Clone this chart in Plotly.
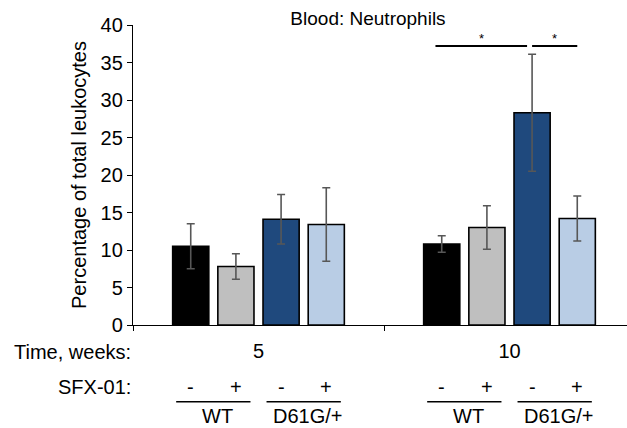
import plotly.graph_objects as go

# Neutrophils in blood, as % of total leukocytes (mean ± error)
weeks = ["5", "10"]
genotypes = ["WT", "WT", "D61G/+", "D61G/+"]
sfx_signs = ["-", "+", "-", "+"]

wt_minus = [10.5, 10.8]
wt_plus = [7.8, 13.0]
d61g_minus = [14.1, 28.3]
d61g_plus = [13.4, 14.2]

wt_minus_err = [3.0, 1.1]
wt_plus_err = [1.7, 2.9]
d61g_minus_err = [3.3, 7.8]
d61g_plus_err = [4.9, 3.0]

# significance brackets: (week index, bar a, bar b, label)
sig_week = [1, 1]
sig_bar_a = [0, 2]
sig_bar_b = [2, 3]
sig_text = ["*", "*"]
sig_level = 37.2

y_ticks = [0, 5, 10, 15, 20, 25, 30, 35, 40]

FONT = "Liberation Sans, Arial, sans-serif"
colors = ["#000000", "#BFBFBF", "#1F497D", "#B9CDE5"]
values = [wt_minus, wt_plus, d61g_minus, d61g_plus]
errors = [wt_minus_err, wt_plus_err, d61g_minus_err, d61g_plus_err]

BARGAP = 0.28
BARGROUPGAP = 0.2
slot = (1 - BARGAP) / 4
offsets = [(i - 1.5) * slot for i in range(4)]


def bar_x(week_idx, bar_idx):
    return week_idx + offsets[bar_idx]


def paper_y(px):
    # pixel row in the page -> paper coordinate (plot spans rows 25..325)
    return (325 - px) / 300


fig = go.Figure()
for i in range(4):
    fig.add_trace(go.Bar(
        x=weeks, y=values[i],
        name=f"{genotypes[i]} {sfx_signs[i]}",
        marker=dict(color=colors[i], line=dict(color="#000000", width=1.6)),
        error_y=dict(type="data", array=errors[i], visible=True,
                     color="#575757", thickness=1.6, width=4),
    ))

shapes = []
annotations = []

# significance lines and stars
pads = [(-0.025, -0.02), (0.0, 0.0)]
for k in range(len(sig_text)):
    x0 = bar_x(sig_week[k], sig_bar_a[k]) + pads[k][0]
    x1 = bar_x(sig_week[k], sig_bar_b[k]) + pads[k][1]
    shapes.append(dict(type="line", xref="x", yref="y", x0=x0, x1=x1,
                       y0=sig_level, y1=sig_level,
                       line=dict(color="#000000", width=2)))
    annotations.append(dict(x=(x0 + x1) / 2, y=sig_level, xref="x", yref="y",
                            text=sig_text[k], showarrow=False, yanchor="bottom",
                            font=dict(family=FONT, size=13, color="#000000"),
                            yshift=-2))

# row labels under the axis
label_font = dict(family=FONT, size=20, color="#000000")
annotations.append(dict(x=0, y=paper_y(352), xref="paper", yref="paper",
                        text="Time, weeks:", showarrow=False, xanchor="right",
                        yanchor="middle", font=label_font))
annotations.append(dict(x=0, y=paper_y(387), xref="paper", yref="paper",
                        text="SFX-01:", showarrow=False, xanchor="right",
                        yanchor="middle", font=label_font))

for w in range(len(weeks)):
    for i in range(4):
        annotations.append(dict(x=bar_x(w, i), y=paper_y(387), xref="x", yref="paper",
                                text=sfx_signs[i], showarrow=False, yanchor="middle",
                                font=label_font))
    for g in range(2):
        a, b = 2 * g, 2 * g + 1
        x0 = bar_x(w, a) - 0.058
        x1 = bar_x(w, b) + 0.058
        shapes.append(dict(type="line", xref="x", yref="paper", x0=x0, x1=x1,
                           y0=paper_y(401.7), y1=paper_y(401.7),
                           line=dict(color="#000000", width=1.5)))
        annotations.append(dict(x=(x0 + x1) / 2 + 0.015, y=paper_y(428), xref="x", yref="paper",
                                text=genotypes[a], showarrow=False, yanchor="bottom",
                                borderpad=0, font=label_font))

fig.update_layout(
    width=627, height=428,
    margin=dict(l=133, r=0, t=25, b=103),
    paper_bgcolor="white", plot_bgcolor="white",
    barmode="group", bargap=BARGAP, bargroupgap=BARGROUPGAP,
    showlegend=False,
    title=dict(text="Blood: Neutrophils", x=368 / 627, xanchor="center",
               y=1 - 18 / 428, yanchor="middle",
               font=dict(family=FONT, size=19, color="#000000")),
    shapes=shapes,
    annotations=annotations,
    font=dict(family=FONT, color="#000000"),
)

fig.update_xaxes(
    type="category", range=[-0.5, -0.5 + 494 / 251],
    tickson="boundaries", ticks="outside", ticklen=5, tickcolor="#000000",
    showline=True, linecolor="#000000", linewidth=1.3, showgrid=False,
    tickfont=dict(family=FONT, size=20, color="#000000"),
    ticklabelstandoff=8,
)
fig.update_yaxes(
    range=[0, 40], tickvals=y_ticks, ticks="outside", ticklen=5,
    tickcolor="#000000", showline=True, linecolor="#000000", linewidth=1.3,
    showgrid=False, zeroline=False,
    tickfont=dict(family=FONT, size=20, color="#000000"),
    title=dict(text="Percentage of total leukocytes", standoff=8,
               font=dict(family=FONT, size=20, color="#000000")),
)

fig.write_html("out.html")
